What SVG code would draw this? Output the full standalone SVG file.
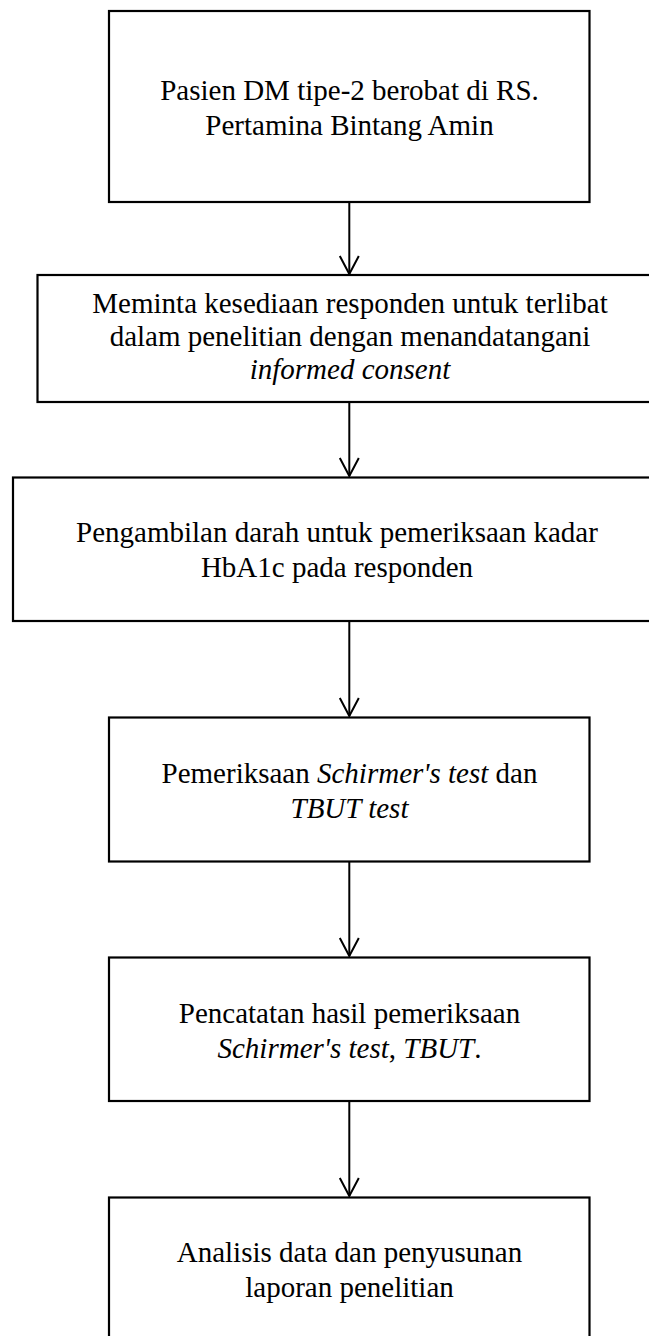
<svg xmlns="http://www.w3.org/2000/svg" width="649" height="1336" viewBox="0 0 649 1336">
<style>
.box{fill:#fff;stroke:#000;stroke-width:2.2}
.t{font-size:29px;fill:#000;text-anchor:middle}
.i{font-style:italic}
.c{stroke:#000;stroke-width:2;fill:none}
</style>
<defs>
<marker id="ah" viewBox="-20 -11 22 22" markerWidth="22" markerHeight="22" refX="0" refY="0" orient="auto" markerUnits="userSpaceOnUse">
<path d="M-18,-9.5 L0,0 L-18,9.5" fill="none" stroke="#000" stroke-width="2"/>
</marker>
</defs>
<rect width="649" height="1336" fill="#fff"/>
<g id="connectors">
<line class="c" x1="349.3" y1="202" x2="349.3" y2="274" marker-end="url(#ah)"/>
<line class="c" x1="349.3" y1="402" x2="349.3" y2="476" marker-end="url(#ah)"/>
<line class="c" x1="349.3" y1="621" x2="349.3" y2="716" marker-end="url(#ah)"/>
<line class="c" x1="349.3" y1="861" x2="349.3" y2="956" marker-end="url(#ah)"/>
<line class="c" x1="349.3" y1="1101" x2="349.3" y2="1196" marker-end="url(#ah)"/>
</g>
<g font-family="Liberation Serif, serif">
<g id="n1">
<rect class="box" x="109" y="11" width="480.5" height="191"/>
<text class="t" x="349.5" y="100">Pasien DM tipe-2 berobat di RS.</text>
<text class="t" x="349.5" y="135">Pertamina Bintang Amin</text>
</g>
<g id="n2">
<rect class="box" x="37.5" y="275" width="640" height="127"/>
<text class="t" x="350" y="313">Meminta kesediaan responden untuk terlibat</text>
<text class="t" x="350" y="346">dalam penelitian dengan menandatangani</text>
<text class="t i" x="350" y="379">informed consent</text>
</g>
<g id="n3">
<rect class="box" x="13" y="477.5" width="660" height="143.5"/>
<text class="t" x="337" y="542">Pengambilan darah untuk pemeriksaan kadar</text>
<text class="t" x="337" y="577">HbA1c pada responden</text>
</g>
<g id="n4">
<rect class="box" x="109" y="717.5" width="480.5" height="144"/>
<text class="t" x="349.5" y="783">Pemeriksaan <tspan class="i">Schirmer's test</tspan> dan</text>
<text class="t i" x="349.5" y="818">TBUT test</text>
</g>
<g id="n5">
<rect class="box" x="109" y="957.5" width="480.5" height="143.5"/>
<text class="t" x="349.5" y="1023">Pencatatan hasil pemeriksaan</text>
<text class="t" x="349.5" y="1058"><tspan class="i">Schirmer's test</tspan>, <tspan class="i">TBUT</tspan>.</text>
</g>
<g id="n6">
<rect class="box" x="109" y="1197.5" width="480.5" height="160"/>
<text class="t" x="349.5" y="1262">Analisis data dan penyusunan</text>
<text class="t" x="349.5" y="1297">laporan penelitian</text>
</g>
</g>
</svg>
